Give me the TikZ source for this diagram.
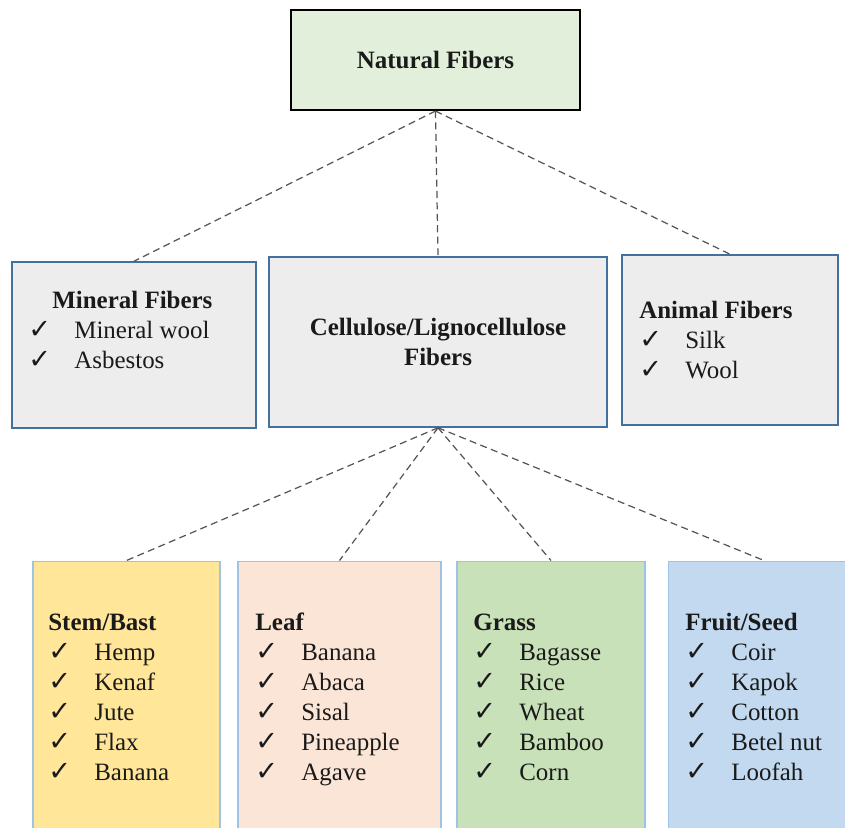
\documentclass[tikz,border=0pt]{standalone}
\usepackage{fontspec}
\setmainfont{Liberation Serif}
\newfontfamily\symfont{DejaVu Sans}
\usepackage{tikz}

\newdimen\pix \pix=0.02cm
\definecolor{topgreen}{HTML}{E2EFDA}
\definecolor{midgray}{HTML}{EDEDED}
\definecolor{midblue}{HTML}{41719C}
\definecolor{lowblue}{HTML}{9DC3E6}
\definecolor{stemfill}{HTML}{FFE699}
\definecolor{leaffill}{HTML}{FBE5D6}
\definecolor{grassfill}{HTML}{C9E1B9}
\definecolor{fruitfill}{HTML}{C2D9EF}
\definecolor{linkgray}{HTML}{555555}
\definecolor{inkdark}{HTML}{1A1A1A}

\newcommand\tick{\makebox[46\pix][l]{\symfont\fontsize{15.5}{15.5}\selectfont ✓}}

\tikzstyle{topbox} = [rectangle, draw=black, line width=1.2pt, fill=topgreen, inner sep=0pt, text=inkdark]
\tikzstyle{midbox} = [rectangle, draw=midblue, line width=0.9pt, fill=midgray, inner sep=0pt, text=inkdark]
\tikzstyle{lowbox} = [rectangle, draw=lowblue, line width=0.6pt, inner sep=0pt]
\tikzstyle{list} = [anchor=base west, inner sep=0pt, text=inkdark]
\tikzstyle{link} = [draw=linkgray, line width=0.7pt, dash pattern=on 4pt off 2.5pt]

\begin{document}
\begin{tikzpicture}[x=0.02cm, y=-0.02cm, font=\fontsize{14.2}{17.1}\selectfont]

        \clip (0,0) rectangle (845,828);

        \node (natural) [topbox, minimum width=5.78cm, minimum height=2cm] at (435.5,60) {\textbf{Natural Fibers}};

        \node (mineral) [midbox, minimum width=4.88cm, minimum height=3.32cm] at (134,345) {};
        \node (cellulose) [midbox, minimum width=6.76cm, minimum height=3.4cm, align=center] at (438,342) {\textbf{Cellulose/Lignocellulose}\\\textbf{Fibers}};
        \node (animal) [midbox, minimum width=4.32cm, minimum height=3.4cm] at (730,340) {};

        \node (stem) [lowbox, fill=stemfill, minimum width=3.74cm, minimum height=5.98cm] at (126.5,710.5) {};
        \node (leaf) [lowbox, fill=leaffill, minimum width=4.06cm, minimum height=5.98cm] at (339.5,710.5) {};
        \node (grass) [lowbox, fill=grassfill, minimum width=3.76cm, minimum height=5.98cm] at (551,710.5) {};
        \node (fruit) [lowbox, fill=fruitfill, minimum width=3.84cm, minimum height=5.98cm] at (764,710.5) {};

        \node (mineraltxt) [list] at (28,308) {\begin{tabular}[t]{@{}l@{}}
            \hspace*{24\pix}\textbf{Mineral Fibers}\\ \tick Mineral wool\\ \tick Asbestos
        \end{tabular}};
        \node (animaltxt) [list] at (639,318) {\begin{tabular}[t]{@{}l@{}}
            \textbf{Animal Fibers}\\ \tick Silk\\ \tick Wool
        \end{tabular}};

        \node (stemtxt) [list] at (48,630) {\begin{tabular}[t]{@{}l@{}}
            \textbf{Stem/Bast}\\ \tick Hemp\\ \tick Kenaf\\ \tick Jute\\ \tick Flax\\ \tick Banana
        \end{tabular}};
        \node (leaftxt) [list] at (255,630) {\begin{tabular}[t]{@{}l@{}}
            \textbf{Leaf}\\ \tick Banana\\ \tick Abaca\\ \tick Sisal\\ \tick Pineapple\\ \tick Agave
        \end{tabular}};
        \node (grasstxt) [list] at (473,630) {\begin{tabular}[t]{@{}l@{}}
            \textbf{Grass}\\ \tick Bagasse\\ \tick Rice\\ \tick Wheat\\ \tick Bamboo\\ \tick Corn
        \end{tabular}};
        \node (fruittxt) [list] at (685,630) {\begin{tabular}[t]{@{}l@{}}
            \textbf{Fruit/Seed}\\ \tick Coir\\ \tick Kapok\\ \tick Cotton\\ \tick Betel nut\\ \tick Loofah
        \end{tabular}};

        \draw[link] (natural.south) -- (mineral.north);
        \draw[link] (natural.south) -- (cellulose.north);
        \draw[link] (natural.south) -- (animal.north);

        \draw[link] (cellulose.south) -- (stem.north);
        \draw[link] (cellulose.south) -- (leaf.north);
        \draw[link] (cellulose.south) -- (grass.north);
        \draw[link] (cellulose.south) -- (fruit.north);

    \end{tikzpicture}
\end{document}
